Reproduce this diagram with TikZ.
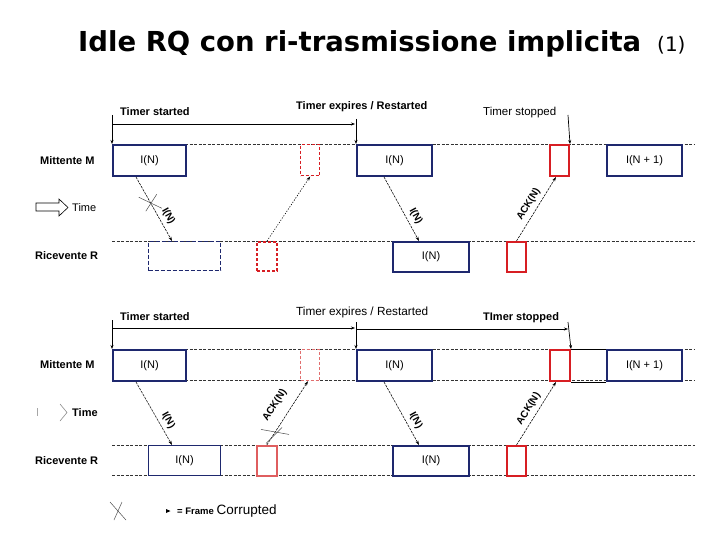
\documentclass[tikz,border=0pt]{standalone}
\usepackage{fontspec}
\setmainfont{Liberation Sans}
\newfontfamily\titlefont{DejaVu Sans}
\usetikzlibrary{arrows.meta,calc}
\definecolor{navy}{RGB}{30,40,110}
\definecolor{fred}{RGB}{215,30,35}
\definecolor{lred}{RGB}{225,110,110}
\tikzset{
  fbox/.style={draw=navy, fill=white, line width=2pt, inner sep=0pt, anchor=north west,
    minimum height=31pt, font=\fontsize{11}{13}\selectfont},
  thinbox/.style={fbox, line width=1pt},
  dbox/.style={fbox, line width=1.2pt, dash pattern=on 4pt off 2pt},
  redbox/.style={draw=fred, fill=white, line width=2pt, inner sep=0pt, anchor=north west,
    minimum width=19pt, minimum height=31pt},
  reddash/.style={redbox, line width=1.4pt, dash pattern=on 3pt off 2pt},
  lreddash/.style={redbox, draw=lred, line width=1.2pt, dash pattern=on 3pt off 2pt},
  lredbox/.style={redbox, draw=lred!80!fred, line width=1.6pt},
  lane/.style={line width=0.6pt, black!80, dash pattern=on 3pt off 1.5pt},
  msg/.style={line width=0.55pt, dash pattern=on 2.5pt off 1pt, -{Stealth[length=4.5pt,width=3pt]}},
  dotmsg/.style={line width=0.6pt, dash pattern=on 1.2pt off 1.5pt, -{Stealth[length=4.5pt,width=3pt]}},
  tmr/.style={line width=0.7pt, -{Stealth[length=4pt,width=3pt]}},
  lbl/.style={font=\bfseries\fontsize{11}{13}\selectfont, anchor=west, inner sep=0pt},
  nlbl/.style={font=\fontsize{11}{13}\selectfont, anchor=west, inner sep=0pt},
  mlbl/.style={font=\bfseries\fontsize{10}{12}\selectfont, sloped, above=4pt, inner sep=0pt},
  xmark/.style={line width=0.5pt, black!70}
}
\begin{document}
\begin{tikzpicture}[x=1pt,y=-1pt]
\useasboundingbox (0,0) rectangle (720,540);

% Title
\node[anchor=base west, inner sep=0pt] (title) at (78,52)
  {\titlefont\bfseries\fontsize{27.5}{32}\selectfont Idle RQ con ri-trasmissione implicita};
\node[anchor=base west, inner sep=0pt] (tnum) at (657,52)
  {\titlefont\fontsize{20}{24}\selectfont (1)};

% ================= TOP PANEL =================
\coordinate (mEnd) at (695,144);
\coordinate (rStart) at (112,241);
\coordinate (rEnd) at (695,241);
\draw[lane] (185,144) coordinate (mStart) -- (mEnd);
\draw[lane] (rStart) -- (rEnd);

\node[fbox, minimum width=73pt] (m1) at (112,144) {I(N)};
\node[reddash] (mr1) at (300,144) {};
\node[fbox, minimum width=75pt] (m2) at (356,144) {I(N)};
\node[redbox] (mr2) at (549,144) {};
\node[fbox, minimum width=75pt] (m3) at (606,144) {I(N + 1)};

\node[dbox, minimum width=72pt, minimum height=29pt] (r1) at (148,241) {};
\node[reddash, line width=2pt, minimum width=20pt, minimum height=29pt] (rr1) at (256,241) {};
\node[fbox, minimum width=76pt, minimum height=30pt] (r2) at (392,241) {I(N)};
\node[redbox, minimum height=30pt] (rr2) at (506,241) {};

% timer annotations
\node[lbl] (ts) at (120,112) {Timer started};
\node[lbl] (te) at (296,107) {Timer expires / Restarted};
\node[nlbl, font=\fontsize{11.5}{13}\selectfont] (tst) at (483,113) {Timer stopped};
\coordinate (t1) at (112,115);
\coordinate (h1a) at (112,124);
\coordinate (h1b) at (355,124);
\coordinate (t2) at (356,119);
\coordinate (t3) at (568,115);
\draw[tmr] (t1) -- (m1.north west);
\draw[tmr] (h1a) -- (h1b);
\draw[tmr] (t2) -- (m2.north west);
\draw[tmr] (t3) -- (mr2.north east);

% messages
\draw[msg] ($(m1.south west)+(24,0)$) -- coordinate[pos=0.41] (x1)
  node[mlbl, pos=0.68] {I(N)} ($(r1.north west)+(24,0)$);
\draw[dotmsg] (rr1.north) -- (mr1.south);
\draw[msg] ($(m2.south west)+(28,0)$) -- node[mlbl, pos=0.68] {I(N)} ($(r2.north west)+(27,0)$);
\draw[msg] (rr2.north) -- node[mlbl, pos=0.5] {ACK(N)} ($(mr2.south west)+(7,0)$);
\draw[xmark] ($(x1)+(-12,-6)$) -- ($(x1)+(11,5)$);
\draw[xmark] ($(x1)+(-5,8)$) -- ($(x1)+(6,-9)$);

% labels
\node[lbl] (sm) at (40,161) {Mittente M};
\node[lbl] (rr) at (35,256) {Ricevente R};
\draw[line width=0.6pt, fill=white] (36,203) -- (59,203) -- (59,199) -- (68,207.5)
  -- (59,216) -- (59,211) -- (36,211) -- cycle;
\node[nlbl] (tm) at (72,208) {Time};

% ================= BOTTOM PANEL =================
\coordinate (bmEndT) at (695,349);
\coordinate (bmEndB) at (695,380);
\coordinate (brStartT) at (112,445);
\coordinate (brEndT) at (695,445);
\coordinate (brStartB) at (112,475);
\coordinate (brEndB) at (695,475);
\draw[lane] (185,349) -- (bmEndT);
\draw[lane] (185,380) -- (bmEndB);
\draw[lane] (brStartT) -- (brEndT);
\draw[lane] (brStartB) -- (brEndB);

\node[fbox, minimum width=73pt] (bm1) at (112,349) {I(N)};
\node[lreddash] (bmr1) at (300,349) {};
\node[fbox, minimum width=75pt] (bm2) at (356,349) {I(N)};
\node[redbox, minimum width=20pt] (bmr2) at (549,349) {};
\node[fbox, minimum width=75pt] (bm3) at (606,349) {I(N + 1)};
\draw[line width=0.6pt] (bmr2.north east) -- (bm3.north west);
\draw[line width=0.6pt] (bmr2.south east) -- (bm3.south west);

\node[thinbox, minimum width=72pt, minimum height=30pt] (br1) at (148,445) {I(N)};
\node[lredbox, minimum width=20pt, minimum height=30pt] (brr1) at (256,445) {};
\node[fbox, minimum width=76pt, minimum height=30pt] (br2) at (392,445) {I(N)};
\node[redbox, minimum height=30pt] (brr2) at (506,445) {};

% timer annotations
\node[lbl] (bts) at (120,317) {Timer started};
\node[nlbl, font=\fontsize{11.8}{13}\selectfont] (bte) at (296,312) {Timer expires / Restarted};
\node[lbl] (btst) at (483,318) {TImer stopped};
\coordinate (bt1) at (112,320);
\coordinate (bh1a) at (112,328);
\coordinate (bh1b) at (355,328);
\coordinate (bh2a) at (356,329);
\coordinate (bh2b) at (568,329);
\coordinate (bt2) at (356,322);
\coordinate (bt3) at (568,322);
\draw[tmr] (bt1) -- (bm1.north west);
\draw[tmr] (bh1a) -- (bh1b);
\draw[tmr] (bh2a) -- (bh2b);
\draw[tmr] (bt2) -- (bm2.north west);
\draw[tmr] (bt3) -- (bmr2.north east);

% messages
\draw[msg] ($(bm1.south west)+(24,0)$) -- node[mlbl, pos=0.68] {I(N)} ($(br1.north west)+(24,0)$);
\draw[msg] (brr1.north) -- coordinate[pos=0.15] (x2)
  node[mlbl, pos=0.5, above=6pt] {ACK(N)} ($(bmr1.south west)+(8,0)$);
\draw[msg] ($(bm2.south west)+(28,0)$) -- node[mlbl, pos=0.68] {I(N)} ($(br2.north west)+(27,0)$);
\draw[msg] (brr2.north) -- node[mlbl, pos=0.5] {ACK(N)} ($(bmr2.south west)+(7,0)$);
\draw[xmark] ($(x2)+(-12,-6)$) -- ($(x2)+(16,-1)$);
\draw[xmark] ($(x2)+(-7,8)$) -- ($(x2)+(9,-8)$);

% labels
\node[lbl] (bsm) at (40,365) {Mittente M};
\node[lbl] (brr) at (35,461) {Ricevente R};
\draw[line width=0.6pt, black!35] (37,408) -- (37,416);
\draw[line width=0.6pt, black!45] (60,404) -- (67,412.5) -- (60,421);
\node[lbl] (btm) at (72,413) {Time};

% legend
\coordinate (lx) at (118,511);
\draw[xmark] ($(lx)+(-8,-9)$) -- ($(lx)+(8,9)$);
\draw[xmark] ($(lx)+(4,-9)$) -- ($(lx)+(-4,9)$);
\fill (166,509) -- (170.5,511) -- (166,513) -- cycle;
\node[anchor=west, inner sep=0pt] (leg) at (177,511)
  {{\bfseries\fontsize{9.5}{11}\selectfont = Frame} {\fontsize{13.5}{15}\selectfont Corrupted}};
\end{tikzpicture}
\end{document}
